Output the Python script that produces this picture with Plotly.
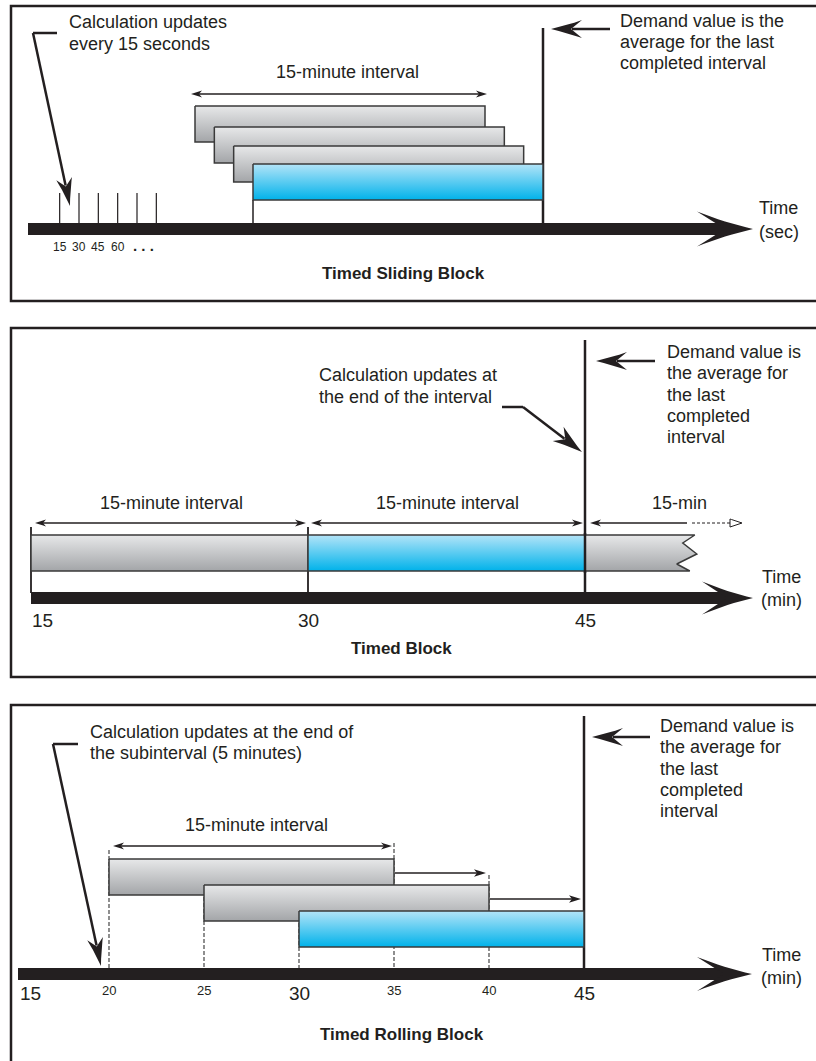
import math
import numpy as np
import plotly.graph_objects as go

W, H = 816, 1061

# ---------------- data ----------------
# Panel 1 - Timed Sliding Block (schematic units: one step = one 15-second update)
sliding_starts = [12, 13, 14, 15]
sliding_ends = [27, 28, 29, 30]
update_ticks = [5, 6, 7, 8, 9, 10]
update_tick_labels = ["15", "30", "45", "60"]
sliding_demand_at = 30

# Panel 2 - Timed Block (minutes)
block_starts = [15, 30, 45]
block_ends = [30, 45, 51]          # last block is still running (torn edge)
block_ticks = [15, 30, 45]
block_tick_labels = ["15", "30", "45"]
block_demand_at = 45

# Panel 3 - Timed Rolling Block (minutes)
rolling_starts = [20, 25, 30]
rolling_ends = [35, 40, 45]
rolling_ticks = [15, 20, 25, 30, 35, 40, 45]
rolling_tick_labels = ["15", "20", "25", "30", "35", "40", "45"]
rolling_major = [15, 30, 45]
rolling_demand_at = 45

# ---------------- styling / layout ----------------
INK = "#231f20"
EDGE = "#3a3a3a"
FONT = "Liberation Sans, Arial, Helvetica, sans-serif"
GRAY = [[0, "#e7e8e9"], [1, "#a3a5a8"]]
BLUE = [[0, "#b3e4f8"], [1, "#00b2ea"]]

# axis calibration: (value, pixel) pairs for each panel's schematic axis
CAL = {1: ((15, 253), (30, 543)), 2: ((15, 31), (45, 585)), 3: ((20, 109), (45, 584))}
PPU, R = {}, {}
for p, ((v0, p0), (v1, p1)) in CAL.items():
    PPU[p] = (p1 - p0) / (v1 - v0)
    R[p] = (v0 - p0 / PPU[p], v0 + (W - p0) / PPU[p])
AXN = {1: "x", 2: "x2", 3: "x3"}

fig = go.Figure()


def tx(p, xpx):
    return R[p][0] + xpx / PPU[p]


def xp(p, t):
    return (t - R[p][0]) * PPU[p]


def line(p, ts, ys, width=1.5, color=INK, dash=None):
    fig.add_trace(go.Scatter(x=ts, y=ys, xaxis=AXN[p], yaxis="y", mode="lines",
                             line=dict(color=color, width=width, dash=dash),
                             hoverinfo="skip", showlegend=False))


def line_px(p, xs, ys, **kw):
    line(p, [tx(p, a) for a in xs], ys, **kw)


def poly_px(p, pts, fill=INK, edge=None, width=0):
    xs = [tx(p, a) for a, b in pts] + [tx(p, pts[0][0])]
    ys = [b for a, b in pts] + [pts[0][1]]
    fig.add_trace(go.Scatter(x=xs, y=ys, xaxis=AXN[p], yaxis="y", mode="lines",
                             fill="toself", fillcolor=fill,
                             line=dict(color=edge or fill, width=width),
                             hoverinfo="skip", showlegend=False))


def head(p, tip, frm, L, Wd, N, c=1.0, fill=INK, open_=False):
    dx, dy = tip[0] - frm[0], tip[1] - frm[1]
    n = math.hypot(dx, dy)
    dx, dy = dx / n, dy / n
    nx, ny = -dy, dx

    def P(u, v):
        return (tip[0] - u * dx + v * nx, tip[1] - u * dy + v * ny)

    pts = []
    ss = np.linspace(0, 1, 9)
    for s in ss:
        u = 2 * (1 - s) * s * (L / 2) + s * s * L
        v = 2 * (1 - s) * s * (Wd / 2 - c) + s * s * Wd
        pts.append(P(u, v))
    pts.append(P(L - N, 0))
    for s in ss[::-1]:
        u = 2 * (1 - s) * s * (L / 2) + s * s * L
        v = 2 * (1 - s) * s * (Wd / 2 - c) + s * s * Wd
        pts.append(P(u, -v))
    if open_:
        poly_px(p, pts, fill="white", edge=INK, width=1)
    else:
        poly_px(p, pts, fill=fill)


def arrow_px(p, start, tip, L, Wd, N, width=2.5, c=1.0):
    dx, dy = tip[0] - start[0], tip[1] - start[1]
    n = math.hypot(dx, dy)
    back = (tip[0] - dx / n * (L - N + 1), tip[1] - dy / n * (L - N + 1))
    line_px(p, [start[0], back[0]], [start[1], back[1]], width=width)
    head(p, tip, start, L, Wd, N, c)


def dbl_arrow(p, t0, t1, y, g0=3, g1=3):
    a, b = xp(p, t0) + g0, xp(p, t1) - g1
    line_px(p, [a + 6, b - 6], [y, y], width=1.3)
    head(p, (a, y), (b, y), 11, 3.6, 3, 0.4)
    head(p, (b, y), (a, y), 11, 3.6, 3, 0.4)


def bar(p, t0, t1, top, bot, scale):
    fig.add_trace(go.Scatter(x=[t0, t1, t1, t0, t0], y=[top, top, bot, bot, top],
                             xaxis=AXN[p], yaxis="y", mode="lines", fill="toself",
                             fillgradient=dict(type="vertical", colorscale=scale,
                                               start=top, stop=bot),
                             line=dict(color=EDGE, width=1.5),
                             hoverinfo="skip", showlegend=False))


def big_axis(p, x_start, yc, tip_x, L, Wd, N):
    line_px(p, [x_start, tip_x - L + N + 4], [yc, yc], width=12)
    head(p, (tip_x, yc), (x_start, yc), L, Wd, N, c=2.5)


ann = []


def text(p, xpx, y, s, size=18, xanchor="left", bold=False, yanchor="middle"):
    ann.append(dict(x=tx(p, xpx), y=y, xref=AXN[p], yref="y", text=(f"<b>{s}</b>" if bold else s),
                    showarrow=False, xanchor=xanchor, yanchor=yanchor,
                    font=dict(family=FONT, size=size, color=INK)))


def border(p, left, top, bot=None):
    xs = [W + 20, left, left] + ([W + 20] if bot is not None else [])
    ys = [top, top, bot if bot is not None else H + 20] + ([bot] if bot is not None else [])
    line_px(p, xs, ys, width=2.5)


# ================= Panel 1: Timed Sliding Block =================
border(1, 11, 6, 301)
row_tops1 = [106, 127, 146, 164]
BAR_H = 36
AX1 = 229
# vertical lines
line(1, [sliding_starts[-1]] * 2, [row_tops1[-1] + BAR_H, AX1 - 6], width=1.5)
line(1, [sliding_demand_at] * 2, [28, AX1 - 6], width=2.5)
for t in update_ticks:
    line(1, [t, t], [193, AX1 - 6], width=1.2)
for i, (s, e) in enumerate(zip(sliding_starts, sliding_ends)):
    bar(1, s, e, row_tops1[i], row_tops1[i] + BAR_H,
        BLUE if i == len(sliding_starts) - 1 else GRAY)
big_axis(1, 28, AX1, 753, 56, 17.5, 28)
dbl_arrow(1, sliding_starts[0], sliding_ends[0], 94, -4, -2)
text(1, 347, 72, "15-minute interval", xanchor="center")
for t, lab in zip(update_ticks, update_tick_labels):
    text(1, xp(1, t), 247, lab, size=12, xanchor="center")
text(1, (xp(1, update_ticks[-2]) + xp(1, update_ticks[-1])) / 2 - 3, 245, ". . .", size=15,
     xanchor="center", bold=True)
text(1, 757, 208, "Time")
text(1, 757, 232, "(sec)")
text(1, 403, 273, "Timed Sliding Block", size=17, xanchor="center", bold=True)
# callouts
line_px(1, [57, 33], [33, 33], width=2.5)
arrow_px(1, (33, 33), (70, 206), 28, 8, 8)
text(1, 67, 22, "Calculation updates")
text(1, 67, 44, "every 15 seconds")
arrow_px(1, (610, 29), (551, 29), 31, 9, 11)
for i, s in enumerate(["Demand value is the", "average for the last", "completed interval"]):
    text(1, 618, 21 + 21 * i, s)

# ================= Panel 2: Timed Block =================
border(2, 11, 328, 677)
AX2 = 598
top2, bot2 = 535, 571
for t in block_ticks[:2]:
    line(2, [t, t], [527, AX2 - 5], width=1.8)
line(2, [block_demand_at] * 2, [340, AX2 - 5], width=2.5)
bar(2, block_starts[0], block_ends[0], top2, bot2, GRAY)
bar(2, block_starts[1], block_ends[1], top2, bot2, BLUE)
# torn last block
e = xp(2, block_ends[2])
zig = [(e - 1, top2), (e - 13, top2 + 8), (e + 1, top2 + 19), (e - 19, top2 + 29), (e - 6, bot2)]
s0 = xp(2, block_starts[2])
pts = [(s0, top2)] + zig + [(s0, bot2)]
xs = [tx(2, a) for a, b in pts] + [tx(2, s0)]
ys = [b for a, b in pts] + [top2]
fig.add_trace(go.Scatter(x=xs, y=ys, xaxis="x2", yaxis="y", mode="lines", fill="toself",
                         fillgradient=dict(type="vertical", colorscale=GRAY, start=top2, stop=bot2),
                         line=dict(color=EDGE, width=1.5), hoverinfo="skip", showlegend=False))
line(2, [block_demand_at] * 2, [top2 - 2, bot2 + 2], width=2.5)
big_axis(2, 31, AX2, 753, 51, 16.5, 25)
ARR2 = 523
dbl_arrow(2, block_starts[0], block_ends[0], ARR2, 4, 2)
dbl_arrow(2, block_starts[1], block_ends[1], ARR2, 3, 2)
a = xp(2, block_starts[2]) + 5
line_px(2, [a + 6, 687], [ARR2, ARR2], width=1.3)
head(2, (a, ARR2), (700, ARR2), 11, 3.6, 3, 0.4)
line_px(2, [692, 732], [ARR2, ARR2], width=1.0, dash="3px,2px")
head(2, (742, ARR2), (692, ARR2), 12, 4, 0, 0, open_=True)
text(2, 171, 503, "15-minute interval", xanchor="center")
text(2, 447, 503, "15-minute interval", xanchor="center")
text(2, 679, 503, "15-min", xanchor="center")
for t, lab in zip(block_ticks, block_tick_labels):
    text(2, xp(2, t) + (-1 if t == block_ticks[0] else 0), 620, lab, size=19,
         xanchor="left" if t == block_ticks[0] else "center")
text(2, 760, 577, "Time")
text(2, 759, 600, "(min)")
text(2, 401, 648, "Timed Block", size=17, xanchor="center", bold=True)
line_px(2, [502, 523], [407, 407], width=2.5)
arrow_px(2, (523, 407), (582, 452), 30, 9, 9)
text(2, 317, 375, "Calculation updates at")
text(2, 317, 397, "the end of the interval")
arrow_px(2, (655, 361), (596, 361), 31, 9, 11)
for i, s in enumerate(["Demand value is", "the average for", "the last", "completed", "interval"]):
    text(2, 665, 352 + 21.3 * i, s)

# ================= Panel 3: Timed Rolling Block =================
border(3, 11, 705)
AX3 = 974
row_tops3 = [859, 885, 911]
dash_tops = {20: 850, 25: 885, 30: 911, 35: 843, 40: 875}
for t in rolling_ticks[1:-1]:
    line(3, [t, t], [dash_tops[t], AX3 - 6], width=1.1, dash="4px,2px", color="#333333")
line(3, [rolling_demand_at] * 2, [716, AX3 - 6], width=2.5)
for i, (s, e) in enumerate(zip(rolling_starts, rolling_ends)):
    bar(3, s, e, row_tops3[i], row_tops3[i] + 36,
        BLUE if i == len(rolling_starts) - 1 else GRAY)
big_axis(3, 18, AX3, 752, 55, 17, 27)
dbl_arrow(3, rolling_starts[0], rolling_ends[0], 846, 4, 2)
# shifts of the interval end
for i in range(2):
    ys = (row_tops3[i] + row_tops3[i + 1]) / 2 + 1
    a = xp(3, rolling_ends[i]) + 1
    b = xp(3, rolling_ends[i + 1]) - 3
    line_px(3, [a, b - 8], [ys, ys], width=1.3)
    head(3, (b, ys), (a, ys), 12, 3.8, 3, 0.4)
text(3, 256, 825, "15-minute interval", xanchor="center")
for t, lab in zip(rolling_ticks, rolling_tick_labels):
    big = t in rolling_major
    if t == rolling_ticks[0]:
        text(3, xp(3, t) + 4, 993, lab, size=19, xanchor="left")
    else:
        text(3, xp(3, t), 993 if big else 990, lab, size=19 if big else 13, xanchor="center")
text(3, 760, 955, "Time")
text(3, 759, 978, "(min)")
text(3, 402, 1034, "Timed Rolling Block", size=17, xanchor="center", bold=True)
line_px(3, [78, 53], [744, 744], width=2.5)
arrow_px(3, (53, 744), (101, 966), 28, 8, 8)
text(3, 88, 732, "Calculation updates at the end of")
text(3, 88, 753, "the subinterval (5 minutes)")
arrow_px(3, (650, 737), (592, 737), 31, 9, 11)
for i, s in enumerate(["Demand value is", "the average for", "the last", "completed", "interval"]):
    text(3, 658, 726 + 21.3 * i, s)

# ---------------- layout ----------------
ax_common = dict(domain=[0, 1], visible=False, showgrid=False, zeroline=False, fixedrange=True)
fig.update_layout(
    width=W, height=H, margin=dict(l=0, r=0, t=0, b=0),
    paper_bgcolor="white", plot_bgcolor="white", showlegend=False,
    xaxis=dict(range=list(R[1]), anchor="y", **ax_common),
    xaxis2=dict(range=list(R[2]), anchor="y", overlaying="x", **ax_common),
    xaxis3=dict(range=list(R[3]), anchor="y", overlaying="x", **ax_common),
    yaxis=dict(range=[H, 0], **ax_common),
    annotations=ann,
)
fig.write_html("out.html", config={"displayModeBar": False},
               post_script="document.body.style.margin='0px';document.body.style.overflow='hidden';")
